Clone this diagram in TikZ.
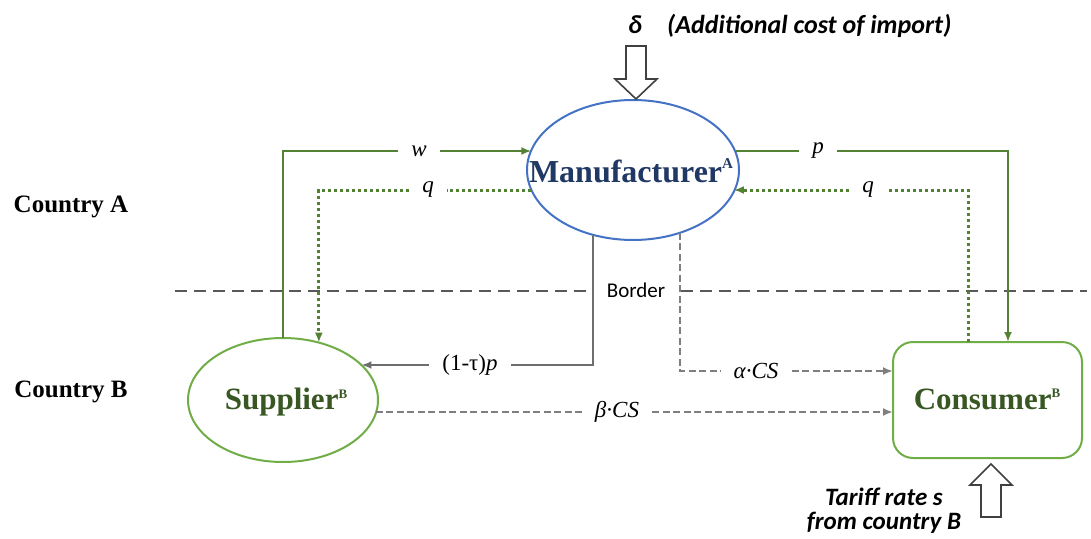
\documentclass[tikz,border=0pt]{standalone}
\usepackage{fontspec}
\setmainfont{Liberation Serif}
\newfontfamily\calib{Carlito}
\usetikzlibrary{arrows.meta,shapes.geometric,calc}
\definecolor{mblue}{HTML}{4472C4}
\definecolor{navy}{HTML}{203864}
\definecolor{lgreen}{HTML}{70AD47}
\definecolor{dgreen}{HTML}{548235}
\definecolor{tgreen}{HTML}{385723}
\definecolor{lgray}{HTML}{7F7F7F}
\definecolor{sgray}{HTML}{6E6E6E}
\definecolor{bgray}{HTML}{595959}
\newcommand\raisedtext[3]{\raisebox{#1}{\fontsize{#2}{#2}\selectfont #3}}
\begin{document}
\begin{tikzpicture}[x=1pt,y=-1pt,
  ell/.style={ellipse, line width=2pt, inner sep=0pt, outer sep=0pt},
  bigtext/.style={font=\fontsize{31}{31}\selectfont\bfseries, inner sep=0pt, anchor=base},
  country/.style={font=\fontsize{25}{25}\selectfont\bfseries, inner sep=0pt, anchor=base},
  gline/.style={draw=dgreen, line width=2pt},
  gdot/.style={draw=dgreen, line width=3pt, dash pattern=on 3pt off 3pt},
  gdash/.style={draw=lgray, line width=2pt, dash pattern=on 7pt off 3.5pt},
  gsolid/.style={draw=sgray, line width=2pt},
  bline/.style={draw=bgray, line width=2pt, dash pattern=on 12pt off 7pt},
  tip/.style={-{Latex[length=10pt,width=8pt]}},
  lab/.style={fill=white, inner xsep=13pt, inner ysep=2pt, font=\fontsize{23}{23}\selectfont},
  barrow/.style={draw=black!75, line width=1.6pt, fill=white, line join=miter},
  callout/.style={font=\calib\fontsize{26}{26}\selectfont\bfseries\itshape, inner sep=0pt}
]
\useasboundingbox (0,0) rectangle (1091,538);

% country labels
\node[country] (ca) at (71,212) {Country A};
\node[country] (cb) at (71,397) {Country B};

% main nodes
\node[ell, draw=mblue, minimum width=212pt, minimum height=140pt] (man) at (633,170) {};
\node[bigtext, text=navy, font=\fontsize{32}{32}\selectfont\bfseries] (mant) at (631,182) {Manufacturer\raisedtext{14pt}{15}{A}};
\node[ell, draw=lgreen, minimum width=190pt, minimum height=124pt] (sup) at (283,400) {};
\node[bigtext, text=tgreen] (supt) at (286,409) {Supplier\raisedtext{11pt}{13}{B}};
\node[draw=lgreen, line width=2pt, rounded corners=20pt, minimum width=189pt, minimum height=116pt, inner sep=0pt, outer sep=0pt] (con) at (987.5,400) {};
\node[bigtext, text=tgreen] (cont) at (987,409) {Consumer\raisedtext{12pt}{13}{B}};

% border
\coordinate (bL) at (175,291);
\coordinate (bR) at (1087,291);
\node[font=\calib\fontsize{21}{21}\selectfont, inner xsep=16pt, inner ysep=0pt] (bd) at (636,290) {Border};
\draw[bline] (bL) -- (bd.west |- bL);
\draw[bline] (bd.east |- bR) -- (bR);

% labels
\node[lab] (wl) at (419,151) {\textit{w}};
\node[lab] (ql1) at (428,190) {\textit{q}};
\node[lab] (pl) at (818,151) {\textit{p}};
\node[lab] (ql2) at (868,190) {\textit{q}};
\node[lab] (tl) at (470,365) {(1-τ)\textit{p}};
\node[lab] (al) at (756,371) {\textit{α·CS}};
\node[lab] (bl) at (617,412) {\textit{β·CS}};

% w
\draw[gline] (sup.north) |- (wl);
\draw[gline,tip] (wl.east) -- (wl.east -| man.169.4);
% q left
\draw[gdot] (ql1.east -| man.191.1) -- (ql1.east);
\draw[gdot,tip] (ql1) -| (sup.58);
% p
\draw[gline] (pl.west -| man.10.6) -- (pl.west);
\draw[gline,tip] (pl) -| ($(con.north)+(20.5,0)$);
% q right
\draw[gdot] ($(con.north)+(-19.5,0)$) |- (ql2);
\draw[gdot,tip] (ql2.west) -- (ql2.west -| man.348.9);
% (1-tau)p
\draw[gsolid] (man.238.3) |- (tl);
\draw[gsolid,tip] (tl.west) -- (tl.west -| sup.24.1);
% alpha CS
\draw[gdash] (man.307.6) |- (al);
\draw[gdash,tip] (al) -- ($(con.west)+(0,-29)$);
% beta CS
\draw[gdash] (bl.west -| sup.352.7) -- (bl.west);
\draw[gdash,tip] (bl) -- ($(con.west)+(0,12)$);

% delta block arrow and text
\draw[barrow] (626,46) -- (646,46) -- (646,79) -- (657,79) -- (636,99) -- (615,79) -- (626,79) -- cycle;
\node[callout, anchor=base] (dl) at (635,33) {δ};
\node[callout, anchor=base west] (dt) at (667,33) {(Additional cost of import)};

% tariff block arrow and text
\draw[barrow] (981,517) -- (1001,517) -- (1001,485) -- (1012,485) -- (991,464) -- (970,485) -- (981,485) -- cycle;
\node[callout, align=center, font=\calib\fontsize{25}{24}\selectfont\bfseries\itshape] (tt) at (884,511) {Tariff rate s\\from country B};
\end{tikzpicture}
\end{document}
